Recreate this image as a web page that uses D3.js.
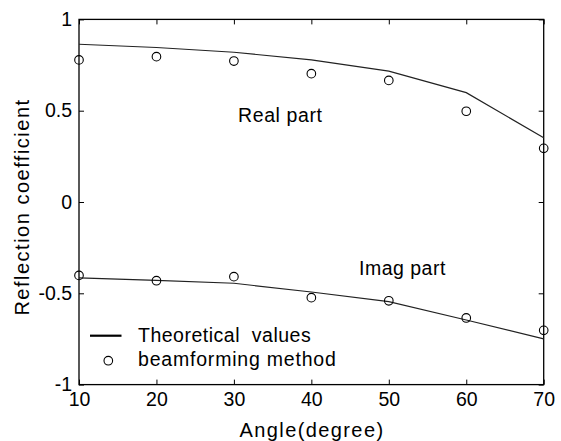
<!DOCTYPE html>
<html>
<head>
<meta charset="utf-8">
<script src="https://cdn.jsdelivr.net/npm/d3@7"></script>
<style>
  body { margin: 0; background: #fff; }
  svg { display: block; font-family: "Liberation Sans", Arial, sans-serif; }
</style>
</head>
<body>
<svg id="chart" width="561" height="441"></svg>
<script>
const angles = [10, 20, 30, 40, 50, 60, 70];
const realTheory = [0.864, 0.846, 0.82, 0.778, 0.717, 0.599, 0.352];
const realBeam = [0.778, 0.796, 0.772, 0.703, 0.666, 0.497, 0.294];
const imagTheory = [-0.416, -0.429, -0.445, -0.493, -0.546, -0.646, -0.75];
const imagBeam = [-0.402, -0.431, -0.409, -0.524, -0.541, -0.635, -0.703];
const xTicks = [10, 20, 30, 40, 50, 60, 70];
const yTicks = [-1, -0.5, 0, 0.5, 1];

const svg = d3.select('#chart');
const plotLeft = 79, plotRight = 543.7, plotTop = 19.4, plotBottom = 384.6;

const x = d3.scaleLinear().domain([10, 70]).range([plotLeft, plotRight]);
const y = d3.scaleLinear().domain([-1, 1]).range([plotBottom, plotTop]);

// frame
svg.append('rect')
  .attr('x', plotLeft).attr('y', plotTop)
  .attr('width', plotRight - plotLeft).attr('height', plotBottom - plotTop)
  .attr('fill', 'none').attr('stroke', '#000').attr('stroke-width', 1.3);

// inward ticks on all four sides
const tickLen = 5;
const fmt = d => String(d);  // plain hyphen minus, like the original

const xAxisB = d3.axisBottom(x).tickValues(xTicks).tickSizeInner(-tickLen).tickSizeOuter(0).tickPadding(8).tickFormat(fmt);
const xAxisT = d3.axisTop(x).tickValues(xTicks).tickSizeInner(-tickLen).tickSizeOuter(0).tickFormat('');
const yAxisL = d3.axisLeft(y).tickValues(yTicks).tickSizeInner(-tickLen).tickSizeOuter(0).tickPadding(7).tickFormat(fmt);
const yAxisR = d3.axisRight(y).tickValues(yTicks).tickSizeInner(-tickLen).tickSizeOuter(0).tickFormat('');

const styleAxis = g => {
  g.select('.domain').remove();
  g.selectAll('line').attr('stroke', '#000').attr('stroke-width', 1);
  g.selectAll('text').attr('fill', '#000').attr('font-size', 19.5)
    .attr('font-family', '"Liberation Sans", Arial, sans-serif');
};

svg.append('g').attr('transform', `translate(0,${plotBottom})`).call(xAxisB).call(styleAxis);
svg.append('g').attr('transform', `translate(0,${plotTop})`).call(xAxisT).call(styleAxis);
svg.append('g').attr('transform', `translate(${plotLeft},0)`).call(yAxisL).call(styleAxis);
svg.append('g').attr('transform', `translate(${plotRight},0)`).call(yAxisR).call(styleAxis);

// lines
const line = d3.line().x((d, i) => x(angles[i])).y(d => y(d));

[realTheory, imagTheory].forEach(s => {
  svg.append('path')
    .datum(s)
    .attr('d', line)
    .attr('fill', 'none')
    .attr('stroke', '#222')
    .attr('stroke-width', 1.2);
});

// markers
[realBeam, imagBeam].forEach(s => {
  svg.append('g')
    .selectAll('circle')
    .data(s)
    .enter()
    .append('circle')
    .attr('cx', (d, i) => x(angles[i]))
    .attr('cy', d => y(d))
    .attr('r', 4.3)
    .attr('fill', 'none')
    .attr('stroke', '#000')
    .attr('stroke-width', 1.1);
});

// annotations
svg.append('text')
  .attr('x', 238).attr('y', 121.5)
  .attr('font-size', 19.5).attr('letter-spacing', 0.6)
  .text('Real part');

svg.append('text')
  .attr('x', 359).attr('y', 275)
  .attr('font-size', 19.5).attr('letter-spacing', 0.5)
  .text('Imag part');

// legend
svg.append('line')
  .attr('x1', 90).attr('x2', 121.5)
  .attr('y1', 335.7).attr('y2', 335.7)
  .attr('stroke', '#000').attr('stroke-width', 2.2);

svg.append('text')
  .attr('x', 138).attr('y', 342)
  .attr('font-size', 19.5).attr('letter-spacing', 0.5)
  .attr('xml:space', 'preserve')
  .style('white-space', 'pre')
  .text('Theoretical  values');

svg.append('circle')
  .attr('cx', 108.3).attr('cy', 360.7).attr('r', 4.3)
  .attr('fill', 'none').attr('stroke', '#000').attr('stroke-width', 1.1);

svg.append('text')
  .attr('x', 138).attr('y', 366)
  .attr('font-size', 19.5).attr('letter-spacing', 0.8)
  .text('beamforming method');

// axis titles
svg.append('text')
  .attr('text-anchor', 'middle')
  .attr('x', 312).attr('y', 436.5)
  .attr('font-size', 20).attr('letter-spacing', 1.4)
  .text('Angle(degree)');

svg.append('text')
  .attr('text-anchor', 'middle')
  .attr('transform', 'translate(29,207) rotate(-90)')
  .attr('font-size', 20).attr('letter-spacing', 1.5)
  .text('Reflection coefficient');
</script>
</body>
</html>
